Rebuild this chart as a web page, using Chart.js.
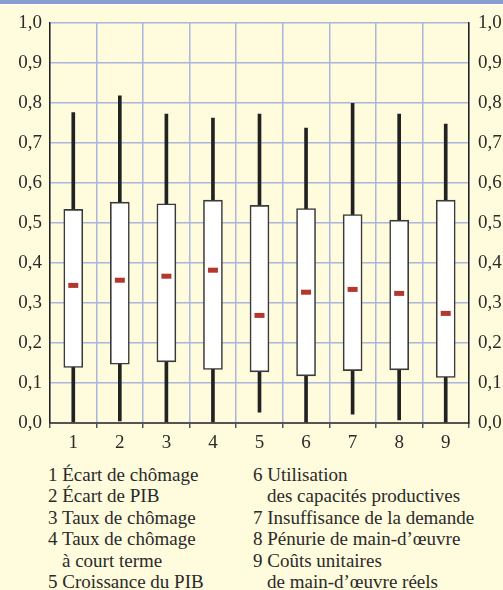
<!DOCTYPE html>
<html>
<head>
<meta charset="utf-8">
<script src="https://cdn.jsdelivr.net/npm/chart.js"></script>
<style>
    body {
        margin: 0;
        width: 503px;
        height: 590px;
        background: #fffbdd;
        position: relative;
        overflow: hidden;
        color: #2a2a2a;
    }
    .band {
        position: absolute;
        left: 0;
        top: 0;
        width: 503px;
        height: 4px;
        background: #8a9dd2;
        border-bottom: 1px solid #ffffff;
        z-index: 2;
    }
    .chart-box {
        position: absolute;
        left: 0;
        top: 0;
        width: 503px;
        height: 460px;
    }
    .legend {
        position: absolute;
        top: 464px;
        font-family: "Liberation Serif", "Times New Roman", Times, serif;
        font-size: 19px;
        line-height: 21.4px;
        white-space: nowrap;
    }
    .legend div.indent {
        padding-left: 14px;
    }
</style>
</head>
<body>
<div class="band"></div>
<div class="chart-box"><canvas id="chart" width="503" height="460"></canvas></div>
<div class="legend" id="legend-left" style="left: 48px"></div>
<div class="legend" id="legend-right" style="left: 253px"></div>

<script>
// Data
const categories = ["1", "2", "3", "4", "5", "6", "7", "8", "9"]
const whiskerLow = [0.003, 0.005, 0.003, 0.003, 0.027, 0.002, 0.022, 0.008, 0.002]
const whiskerHigh = [0.776, 0.818, 0.772, 0.762, 0.772, 0.737, 0.799, 0.772, 0.747]
const boxLow = [0.139, 0.147, 0.153, 0.134, 0.128, 0.118, 0.131, 0.133, 0.114]
const boxHigh = [0.534, 0.552, 0.548, 0.557, 0.544, 0.536, 0.521, 0.507, 0.557]
const medians = [0.344, 0.357, 0.367, 0.382, 0.269, 0.327, 0.334, 0.324, 0.274]
const legendLeft = [
    ["1 Écart de chômage"],
    ["2 Écart de PIB"],
    ["3 Taux de chômage"],
    ["4 Taux de chômage", "à court terme"],
    ["5 Croissance du PIB"],
]
const legendRight = [
    ["6 Utilisation", "des capacités productives"],
    ["7 Insuffisance de la demande"],
    ["8 Pénurie de main-d’œuvre"],
    ["9 Coûts unitaires", "de main-d’œuvre réels"],
]

const gridBlue = "#a9b6de"
const ink = "#2a2a2a"
const tickFont = { family: "'Liberation Serif', 'Times New Roman', Times, serif", size: 19 }
const fmt = (v) => v.toFixed(1).replace(".", ",")

new Chart(document.getElementById("chart"), {
    type: "bar",
    data: {
        labels: categories,
        datasets: [
            {
                label: "median",
                type: "line",
                data: medians,
                showLine: false,
                pointStyle: "line",
                pointRadius: 5,
                pointBorderWidth: 5,
                borderColor: "#b3372d",
                backgroundColor: "#b3372d",
                order: 1,
            },
            {
                label: "box",
                data: categories.map((c, i) => [boxLow[i], boxHigh[i]]),
                backgroundColor: "#ffffff",
                borderColor: "#3a3a3a",
                borderWidth: 1.6,
                borderSkipped: false,
                barThickness: 19,
                grouped: false,
                order: 2,
            },
            {
                label: "whisker",
                data: categories.map((c, i) => [whiskerLow[i], whiskerHigh[i]]),
                backgroundColor: "#222222",
                borderWidth: 0,
                barThickness: 3,
                grouped: false,
                order: 3,
            },
        ],
    },
    options: {
        responsive: false,
        animation: false,
        layout: { padding: { top: 23, bottom: 0, left: 0, right: 0 } },
        plugins: { legend: { display: false }, tooltip: { enabled: false } },
        scales: {
            x: {
                offset: true,
                grid: {
                    offset: true,
                    color: gridBlue,
                    lineWidth: 1.5,
                    tickColor: "#555555",
                    tickLength: 5,
                    tickWidth: 1.5,
                },
                border: { color: "#555555", width: 2 },
                ticks: { color: ink, font: tickFont, padding: 4 },
                afterFit: (scale) => {
                    scale.height = 37
                },
            },
            y: {
                min: 0,
                max: 1,
                position: "left",
                grid: { color: gridBlue, lineWidth: 1.5, drawTicks: false },
                border: { color: "#222222", width: 1.5 },
                ticks: { stepSize: 0.1, color: ink, font: tickFont, padding: 8, callback: fmt },
                afterFit: (scale) => {
                    scale.width = 50
                },
            },
            y2: {
                min: 0,
                max: 1,
                position: "right",
                grid: { drawOnChartArea: false, drawTicks: false },
                border: { color: "#222222", width: 1.5 },
                ticks: { stepSize: 0.1, color: ink, font: tickFont, padding: 9, callback: fmt },
                afterFit: (scale) => {
                    scale.width = 34
                },
            },
        },
    },
})

// Legend text
function fillLegend(id, items) {
    const el = document.getElementById(id)
    items.forEach((lines) => {
        lines.forEach((line, i) => {
            const d = document.createElement("div")
            d.textContent = line
            if (i > 0) d.classList.add("indent")
            el.appendChild(d)
        })
    })
}
fillLegend("legend-left", legendLeft)
fillLegend("legend-right", legendRight)
</script>
</body>
</html>
